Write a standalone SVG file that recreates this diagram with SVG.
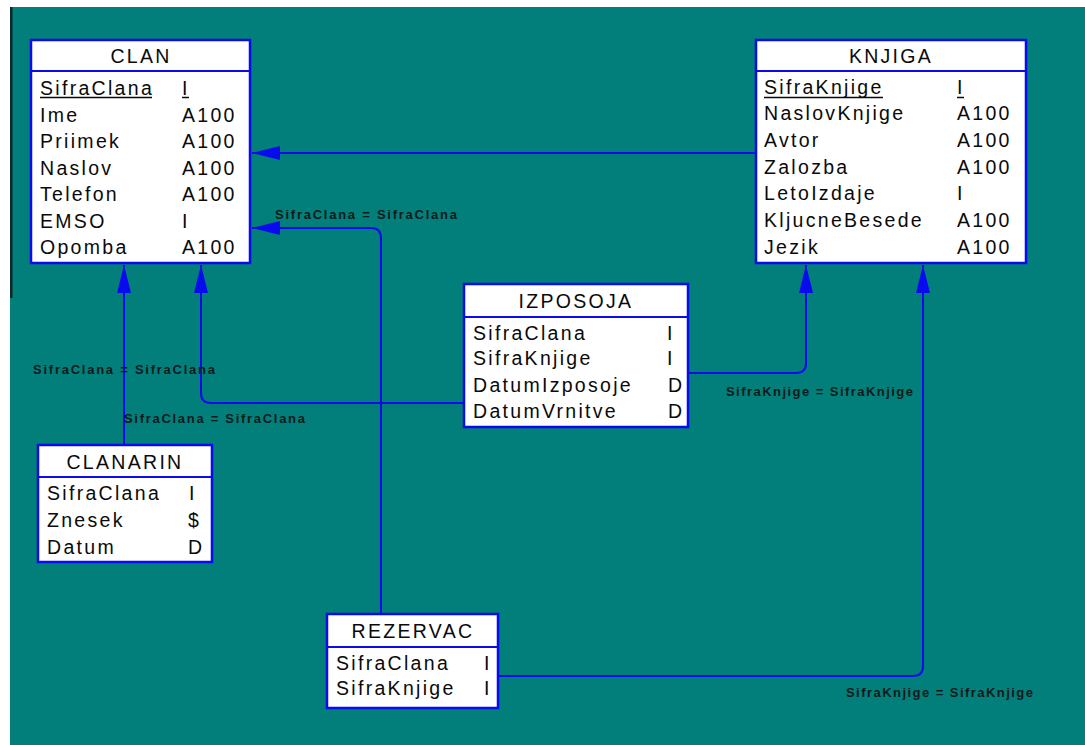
<svg xmlns="http://www.w3.org/2000/svg" width="1085" height="745" viewBox="0 0 1085 745">
<defs>
<style>
.box{fill:#ffffff;stroke:#0a0aee;stroke-width:2.5}
.hl{stroke:#0a0aee;stroke-width:2}
.t{font-family:"Liberation Sans",Arial,sans-serif;font-size:19.5px;letter-spacing:2.3px;fill:#0a0a0a}
.h{text-anchor:middle}
.ul{stroke:#0a0a0a;stroke-width:1.5}
.c{fill:none;stroke:#0a0aee;stroke-width:2}
.lbl{font-family:"Liberation Sans",Arial,sans-serif;font-size:13px;font-weight:bold;fill:#0d1a1a}
</style>
<marker id="arr" viewBox="0 0 28 14" refX="28" refY="7" markerWidth="28" markerHeight="14" markerUnits="userSpaceOnUse" orient="auto">
<path d="M0,0 L28,7 L0,14 z" fill="#0a0aee"/>
</marker>
</defs>
<rect x="0" y="0" width="1085" height="745" fill="#ffffff"/>
<rect x="10" y="7" width="1075" height="738" fill="#037f7b"/>
<rect x="10" y="7" width="2.5" height="291" fill="#0b2a2a"/>

<g id="connectors">
<path class="c" d="M756,153 H252" marker-end="url(#arr)"/>
<path class="c" d="M381,614 V238 Q381,228 371,228 H252" marker-end="url(#arr)"/>
<path class="c" d="M124,445 V265" marker-end="url(#arr)"/>
<path class="c" d="M464,403 H211 Q201,403 201,393 V265" marker-end="url(#arr)"/>
<path class="c" d="M688,373 H796 Q806,373 806,363 V265" marker-end="url(#arr)"/>
<path class="c" d="M498,676 H913 Q923,676 923,666 V265" marker-end="url(#arr)"/>
<text class="lbl" x="275" y="219" textLength="182" lengthAdjust="spacing">SifraClana = SifraClana</text>
<text class="lbl" x="33" y="374" textLength="182" lengthAdjust="spacing">SifraClana = SifraClana</text>
<text class="lbl" x="124" y="423" textLength="181" lengthAdjust="spacing">SifraClana = SifraClana</text>
<text class="lbl" x="726" y="396" textLength="187" lengthAdjust="spacing">SifraKnjige = SifraKnjige</text>
<text class="lbl" x="846" y="697" textLength="187" lengthAdjust="spacing">SifraKnjige = SifraKnjige</text>
</g>

<g id="CLAN">
<rect class="box" x="31" y="40" width="219" height="223"/>
<line class="hl" x1="31" y1="71" x2="250" y2="71"/>
<text class="t h" x="141" y="63">CLAN</text>
<text class="t" x="40" y="95">SifraClana</text><text class="t" x="182" y="95">I</text>
<line class="ul" x1="40" y1="97.5" x2="152" y2="97.5"/><line class="ul" x1="182" y1="97.5" x2="189" y2="97.5"/>
<text class="t" x="40" y="121.5">Ime</text><text class="t" x="182" y="121.5">A100</text>
<text class="t" x="40" y="148">Priimek</text><text class="t" x="182" y="148">A100</text>
<text class="t" x="40" y="174.5">Naslov</text><text class="t" x="182" y="174.5">A100</text>
<text class="t" x="40" y="201">Telefon</text><text class="t" x="182" y="201">A100</text>
<text class="t" x="40" y="227.5">EMSO</text><text class="t" x="182" y="227.5">I</text>
<text class="t" x="40" y="254">Opomba</text><text class="t" x="182" y="254">A100</text>
</g>

<g id="KNJIGA">
<rect class="box" x="756" y="40" width="270" height="223"/>
<line class="hl" x1="756" y1="71" x2="1026" y2="71"/>
<text class="t h" x="891" y="63">KNJIGA</text>
<text class="t" x="764" y="94">SifraKnjige</text><text class="t" x="957" y="94">I</text>
<line class="ul" x1="764" y1="97.5" x2="883" y2="97.5"/><line class="ul" x1="957" y1="97.5" x2="964" y2="97.5"/>
<text class="t" x="764" y="120">NaslovKnjige</text><text class="t" x="957" y="120">A100</text>
<text class="t" x="764" y="147">Avtor</text><text class="t" x="957" y="147">A100</text>
<text class="t" x="764" y="174">Zalozba</text><text class="t" x="957" y="174">A100</text>
<text class="t" x="764" y="200">LetoIzdaje</text><text class="t" x="957" y="200">I</text>
<text class="t" x="764" y="227">KljucneBesede</text><text class="t" x="957" y="227">A100</text>
<text class="t" x="764" y="254">Jezik</text><text class="t" x="957" y="254">A100</text>
</g>

<g id="IZPOSOJA">
<rect class="box" x="464" y="284" width="224" height="143"/>
<line class="hl" x1="464" y1="317" x2="688" y2="317"/>
<text class="t h" x="576" y="308">IZPOSOJA</text>
<text class="t" x="473" y="340">SifraClana</text><text class="t" x="667" y="340">I</text>
<text class="t" x="473" y="365">SifraKnjige</text><text class="t" x="667" y="365">I</text>
<text class="t" x="473" y="392">DatumIzposoje</text><text class="t" x="668" y="392">D</text>
<text class="t" x="473" y="418">DatumVrnitve</text><text class="t" x="668" y="418">D</text>
</g>

<g id="CLANARIN">
<rect class="box" x="38" y="445" width="174" height="117"/>
<line class="hl" x1="38" y1="477" x2="212" y2="477"/>
<text class="t h" x="125" y="469">CLANARIN</text>
<text class="t" x="47" y="500">SifraClana</text><text class="t" x="189" y="500">I</text>
<text class="t" x="47" y="527">Znesek</text><text class="t" x="188" y="527">$</text>
<text class="t" x="47" y="554">Datum</text><text class="t" x="188" y="554">D</text>
</g>

<g id="REZERVAC">
<rect class="box" x="327" y="614" width="171" height="94"/>
<line class="hl" x1="327" y1="647" x2="498" y2="647"/>
<text class="t h" x="413" y="638">REZERVAC</text>
<text class="t" x="336" y="670">SifraClana</text><text class="t" x="484" y="670">I</text>
<text class="t" x="336" y="695">SifraKnjige</text><text class="t" x="484" y="695">I</text>
</g>
</svg>
